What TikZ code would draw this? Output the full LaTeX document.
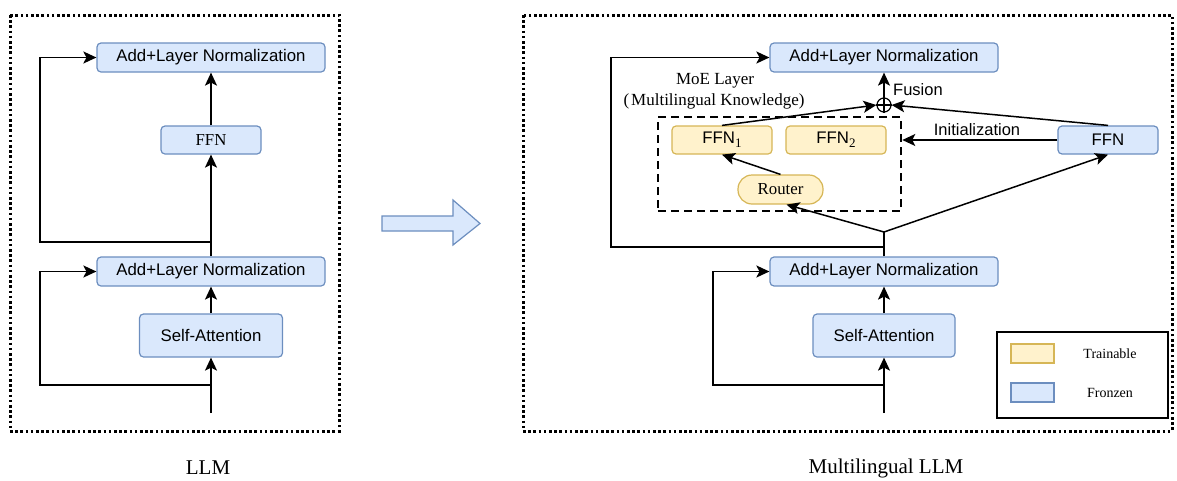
\documentclass[tikz,border=0pt]{standalone}
\usepackage{fontspec}
\setmainfont{Liberation Sans}
\newfontfamily\tnr{Liberation Serif}
\usetikzlibrary{arrows.meta,calc}

\definecolor{frozenfill}{HTML}{DAE8FC}
\definecolor{frozenline}{HTML}{6C8EBF}
\definecolor{trainfill}{HTML}{FFF2CC}
\definecolor{trainline}{HTML}{D6B656}

% expert index set below the baseline in a serif face
\newcommand{\expidx}[1]{\raisebox{-4pt}{\tnr\fontsize{13}{14}\selectfont #1}}

\tikzset{
  blk/.style={rectangle, rounded corners=4pt, line width=1.2pt, inner sep=0pt,
              font=\fontsize{16.8}{20}\selectfont},
  frozen/.style={blk, draw=frozenline, fill=frozenfill},
  trainable/.style={blk, draw=trainline, fill=trainfill},
  arr/.style={line width=1.5pt, -{Stealth[length=13pt,width=12pt,inset=3pt]}},
  ln/.style={line width=1.5pt},
  frame/.style={line width=3pt, dash pattern=on 2.6pt off 2.6pt},
  moebox/.style={draw, line width=2.6pt, dash pattern=on 8pt off 5pt, inner sep=0pt},
  caption text/.style={font=\tnr\fontsize{21}{25}\selectfont},
  lbl/.style={font=\fontsize{16.5}{20}\selectfont, inner sep=0pt},
}

\begin{document}
\begin{tikzpicture}[x=1pt, y=-1pt]
\useasboundingbox (0,0) rectangle (1177,480);

% ---------------- outer frames ----------------
\draw[frame] (10,15) rectangle (339,431);
\draw[frame] (523,15) rectangle (1172,431);

% ---------------- plain LLM block ----------------
\node[frozen, minimum width=228pt, minimum height=29pt] (addtop1) at (211,57.5) {Add+Layer Normalization};
\node[frozen, minimum width=100pt, minimum height=28pt, font=\tnr\fontsize{16.8}{20}\selectfont] (ffn1) at (211,140) {FFN};
\node[frozen, minimum width=228pt, minimum height=29pt] (addbot1) at (211,271.5) {Add+Layer Normalization};
\node[frozen, minimum width=143pt, minimum height=43pt] (sa1) at (211,335.5) {Self-Attention};

\coordinate (in1) at (211,413);
\coordinate (tapb1) at (211,385);
\coordinate (tapt1) at (211,242);

\draw[arr] (in1) -- (sa1.south);
\draw[arr] (sa1.north) -- (addbot1.south);
\draw[arr] (tapb1) -- ++(-171,0) |- (addbot1.west);
\draw[arr] (addbot1.north) -- (ffn1.south);
\draw[arr] (ffn1.north) -- (addtop1.south);
\draw[arr] (tapt1) -- ++(-171,0) |- (addtop1.west);

\node[caption text] (llmcap) at (208,468) {LLM};

% ---------------- transition arrow ----------------
\draw[line width=1.2pt, draw=frozenline, fill=frozenfill, line join=miter]
  (382,216) -- (453,216) -- (453,200) -- (480,223.5) -- (453,245) -- (453,231) -- (382,231) -- cycle;

% ---------------- multilingual LLM block ----------------
\node[frozen, minimum width=228pt, minimum height=29pt] (addtop2) at (884,57.5) {Add+Layer Normalization};
\node[frozen, minimum width=228pt, minimum height=29pt] (addbot2) at (884,271.5) {Add+Layer Normalization};
\node[frozen, minimum width=142pt, minimum height=43pt] (sa2) at (884,335.5) {Self-Attention};
\node[frozen, minimum width=100pt, minimum height=28pt] (ffnr) at (1108,140) {FFN};

% MoE layer
\node[moebox, minimum width=243pt, minimum height=94pt] (moe) at (779.5,164) {};
\node[trainable, minimum width=100pt, minimum height=28pt] (e1) at (722,140) {FFN\expidx{1}};
\node[trainable, minimum width=100pt, minimum height=28pt] (e2) at (836,140) {FFN\expidx{2}};
\node[trainable, rounded corners=14pt, minimum width=85pt, minimum height=29pt,
      font=\tnr\fontsize{16.8}{20}\selectfont] (router) at (780.5,189.5) {Router};
\node[font=\tnr\fontsize{17}{20}\selectfont, inner sep=0pt] (moet1) at (715,81) {MoE Layer};
\node[font=\tnr\fontsize{17}{20}\selectfont, inner sep=0pt] (moet2) at (714,101) {(\kern2pt Multilingual Knowledge)};

% fusion point
\node[circle, draw, line width=1.2pt, minimum size=14pt, inner sep=0pt] (fuse) at (884,105) {};
\draw[line width=1.2pt] (fuse.north) -- (fuse.south) (fuse.west) -- (fuse.east);
\node[lbl, anchor=west] (fusetxt) at (893,90) {Fusion};

\coordinate (in2) at (884,413);
\coordinate (tapb2) at (884,385);
\coordinate (tapt2) at (884,247);
\coordinate (split) at (884,232);

\draw[arr] (in2) -- (sa2.south);
\draw[arr] (sa2.north) -- (addbot2.south);
\draw[arr] (tapb2) -- ++(-171,0) |- (addbot2.west);
\draw[ln] (addbot2.north) -- (split);
\draw[arr] (tapt2) -- ++(-273,0) |- (addtop2.west);
\draw[arr] (split) -- ([xshift=6pt]router.south);
\draw[arr] (split) -- (ffnr.south);
\draw[arr] (router.north) -- (e1.south);
\draw[arr] (e1.north) -- (fuse.west);
\draw[arr] (ffnr.north) -- (fuse.east);
\draw[arr] (fuse.north) -- (addtop2.south);
\draw[arr] (ffnr.west) -- (moe.east |- ffnr.west);
\node[lbl] (inittxt) at (977,130) {Initialization};

\node[caption text] (mlcap) at (886,468) {Multilingual LLM};

% ---------------- legend ----------------
\draw[line width=1.3pt] (997,332) rectangle (1168,418);
\node[draw=trainline, fill=trainfill, line width=1.2pt, minimum width=43pt, minimum height=19pt, inner sep=0pt] (legt) at (1032.5,353.5) {};
\node[draw=frozenline, fill=frozenfill, line width=1.2pt, minimum width=43pt, minimum height=19pt, inner sep=0pt] (legf) at (1032.5,392.5) {};
\node[font=\tnr\fontsize{14}{16}\selectfont] (legttxt) at (1110,354) {Trainable};
\node[font=\tnr\fontsize{14}{16}\selectfont] (legftxt) at (1110,393) {Fronzen};

\end{tikzpicture}
\end{document}
